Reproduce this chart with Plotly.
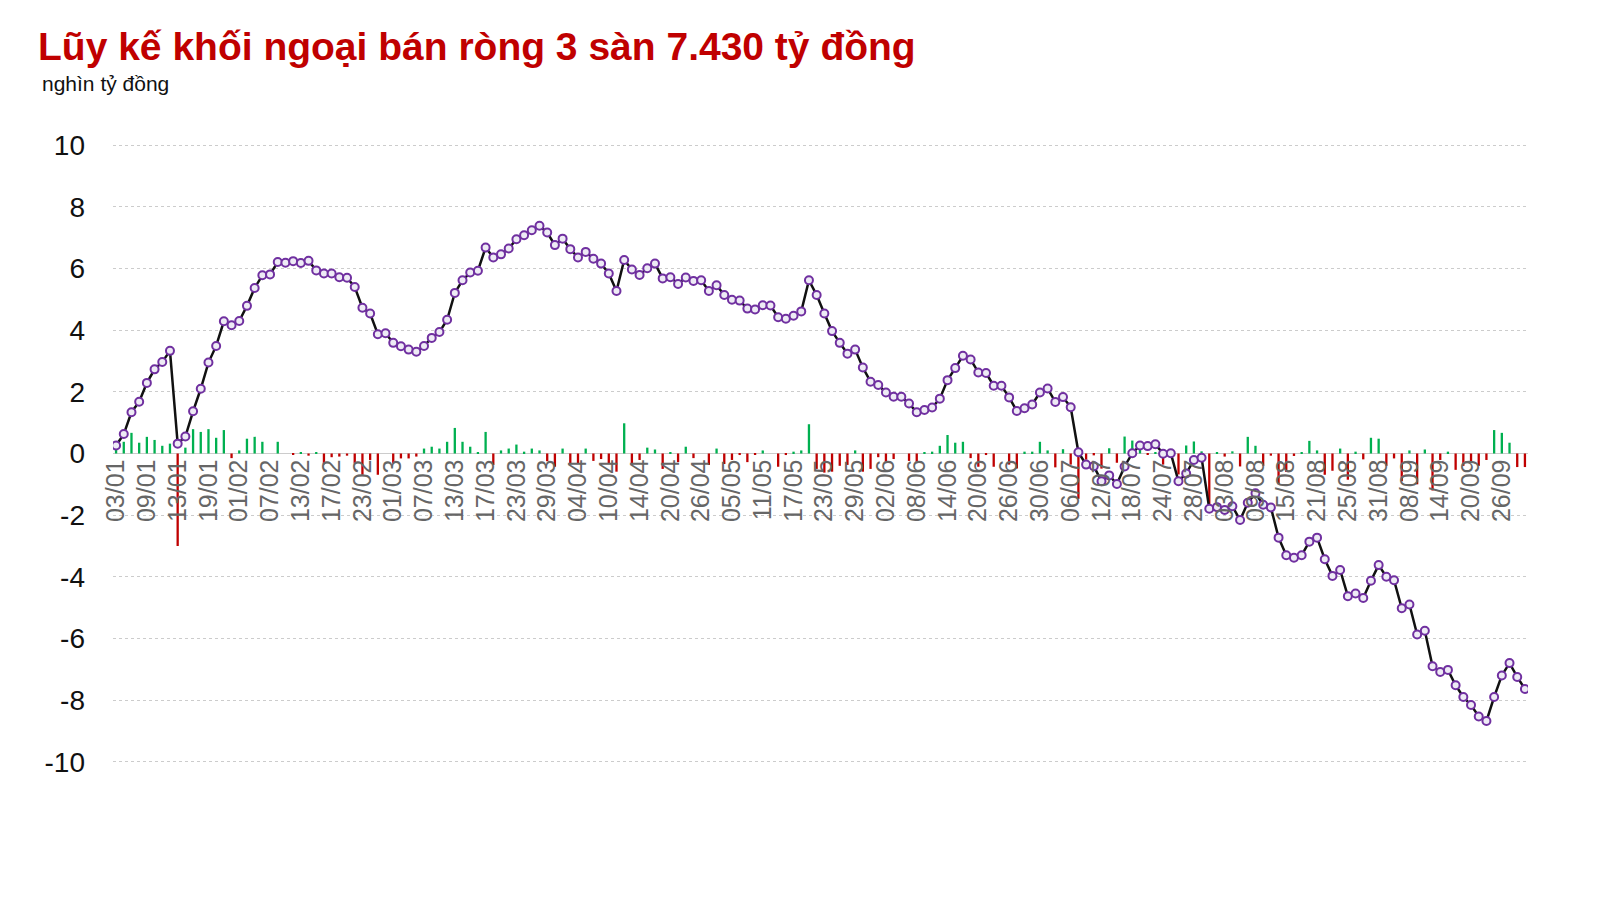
import pandas as pd
import plotly.graph_objects as go

# trading days 2023 (HOSE calendar, Tet + 30/4-1/5 + 2/9 holidays)
holidays = ["2023-01-02", "2023-01-20", "2023-01-23", "2023-01-24", "2023-01-25", "2023-01-26",
            "2023-05-01", "2023-05-02", "2023-05-03", "2023-09-01", "2023-09-04"]
days = pd.bdate_range("2023-01-03", "2023-09-29")
days = days[~days.isin(pd.to_datetime(holidays))]
dates = [d.strftime("%d/%m") for d in days]

# cumulative net (nghin ty dong)
cumulative = [
    0.26, 0.63, 1.34, 1.68, 2.29, 2.73, 2.97, 3.33, 0.32, 0.55, 1.37, 2.10, 2.95, 3.49, 4.29, 4.16,
    4.30, 4.79, 5.37, 5.78, 5.81, 6.21, 6.19, 6.24, 6.18, 6.25, 5.94, 5.84, 5.84, 5.72, 5.70, 5.40,
    4.73, 4.54, 3.87, 3.90, 3.59, 3.48, 3.37, 3.30, 3.49, 3.75, 3.94, 4.34, 5.21, 5.62, 5.87, 5.93,
    6.68, 6.36, 6.46, 6.65, 6.95, 7.08, 7.24, 7.39, 7.17, 6.76, 6.97, 6.63, 6.36, 6.54, 6.32, 6.16,
    5.84, 5.27, 6.28, 5.97, 5.79, 6.01, 6.16, 5.68, 5.72, 5.50, 5.71, 5.60, 5.62, 5.27, 5.46, 5.14,
    4.99, 4.96, 4.70, 4.67, 4.81, 4.80, 4.42, 4.37, 4.47, 4.61, 5.62, 5.14, 4.54, 3.97, 3.59, 3.24,
    3.37, 2.79, 2.33, 2.22, 1.98, 1.84, 1.84, 1.62, 1.34, 1.41, 1.49, 1.78, 2.38, 2.77, 3.17, 3.05,
    2.63, 2.61, 2.20, 2.20, 1.82, 1.38, 1.47, 1.59, 1.98, 2.11, 1.67, 1.83, 1.50, 0.04, -0.36, -0.41,
    -0.90, -0.71, -0.99, -0.42, 0.01, 0.26, 0.24, 0.30, -0.01, 0.01, -0.90, -0.65, -0.21, -0.14,
    -1.79, -1.74, -1.83, -1.71, -2.16, -1.60, -1.29, -1.66, -1.75, -2.73, -3.30, -3.38, -3.30,
    -2.86, -2.73, -3.43, -3.97, -3.78, -4.63, -4.54, -4.69, -4.13, -3.62, -4.00, -4.11, -5.02,
    -4.90, -5.87, -5.75, -6.90, -7.09, -7.02, -7.52, -7.90, -8.16, -8.53, -8.68, -7.90, -7.20,
    -6.80, -7.25, -7.64,
]

# daily net (nghin ty dong)
daily = [
    0.14, 0.38, 0.67, 0.35, 0.54, 0.44, 0.25, 0.32, -3.00, 0.19, 0.79, 0.70, 0.79, 0.51, 0.76, -0.15,
    0.10, 0.48, 0.54, 0.38, 0.00, 0.38, 0.00, -0.03, 0.03, -0.07, 0.03, -0.35, -0.12, -0.10, -0.07,
    -0.32, -0.69, -0.21, -0.69, 0.00, -0.32, -0.16, -0.16, -0.10, 0.16, 0.22, 0.16, 0.38, 0.83, 0.38,
    0.22, 0.03, 0.70, -0.37, 0.10, 0.16, 0.29, 0.06, 0.16, 0.10, -0.25, -0.43, 0.16, -0.32, -0.32,
    0.16, -0.24, -0.18, -0.34, -0.59, 0.98, -0.31, -0.21, 0.19, 0.13, -0.50, 0.03, -0.28, 0.22,
    -0.15, 0.00, -0.37, 0.16, -0.34, -0.21, -0.05, -0.28, -0.03, 0.10, 0.00, -0.43, -0.05, 0.06,
    0.10, 0.95, -0.50, -0.62, -0.59, -0.40, -0.37, 0.10, -0.59, -0.50, -0.12, -0.28, -0.18, 0.00,
    -0.24, -0.31, 0.03, 0.06, 0.25, 0.60, 0.35, 0.38, -0.15, -0.43, -0.05, -0.43, 0.00, -0.36,
    -0.49, 0.06, 0.06, 0.38, 0.10, -0.45, 0.14, -0.36, -1.47, -0.20, -0.06, -0.49, 0.17, -0.30,
    0.55, 0.42, 0.17, -0.03, 0.04, -0.36, 0.00, -0.68, 0.26, 0.39, 0.07, -1.70, 0.04, -0.10, 0.07,
    -0.42, 0.54, 0.25, -0.40, -0.07, -1.00, -0.60, -0.08, 0.03, 0.41, 0.10, -0.69, -0.56, 0.16,
    -0.85, 0.06, -0.19, 0.51, 0.48, -0.40, -0.16, -0.90, 0.10, -1.00, 0.13, -1.20, -0.21, 0.06,
    -0.53, -0.40, -0.28, -0.40, -0.21, 0.76, 0.67, 0.35, -0.44, -0.44,
]

y_ticks = [-10, -8, -6, -4, -2, 0, 2, 4, 6, 8, 10]

bar_colors = ["#00b050" if v >= 0 else "#c00000" for v in daily]

fig = go.Figure()
fig.add_trace(go.Bar(x=dates, y=daily, marker_color=bar_colors, width=0.3,
                     marker_line_width=0, showlegend=False))
fig.add_trace(go.Scatter(x=dates, y=cumulative, mode="lines+markers",
                         line=dict(color="#111111", width=2.5),
                         marker=dict(size=8, color="#eeebf5",
                                     line=dict(color="#7030a0", width=2)),
                         showlegend=False))

fig.update_layout(
    width=1603, height=900,
    margin=dict(l=105, r=83, t=128, b=137),
    paper_bgcolor="white", plot_bgcolor="white",
    font=dict(family="Liberation Sans, Arial, sans-serif"),
    title=dict(text="<b>Lũy kế khối ngoại bán ròng 3 sàn 7.430 tỷ đồng</b>",
               font=dict(size=39, color="#c00000"),
               xref="container", x=30 / 1603, xanchor="left",
               yref="container", y=1 - 38 / 900, yanchor="middle"),
    annotations=[dict(text="nghìn tỷ đồng", xref="paper", yref="paper",
                      x=-73 / 1415, y=1 + (128 - 75) / 635, xanchor="left", yanchor="middle",
                      showarrow=False, font=dict(size=21, color="#111111"))],
    bargap=0.7,
)
fig.update_xaxes(type="category", range=[-0.4, len(dates) - 0.6], anchor="free", position=0.5,
                 tickmode="linear", tick0=0, dtick=4, tickangle=-90, showgrid=False,
                 showline=False, ticks="", tickfont=dict(size=25, color="#666666"))
fig.update_yaxes(range=[-10.3, 10.3], tickvals=y_ticks, ticktext=[str(v) for v in y_ticks],
                 showgrid=True, gridcolor="#cccccc", griddash="dot", gridwidth=1,
                 zeroline=True, zerolinecolor="#cccccc", zerolinewidth=1,
                 ticklabelstandoff=27, tickfont=dict(size=28, color="#111111"))

fig.write_html("out.html")
